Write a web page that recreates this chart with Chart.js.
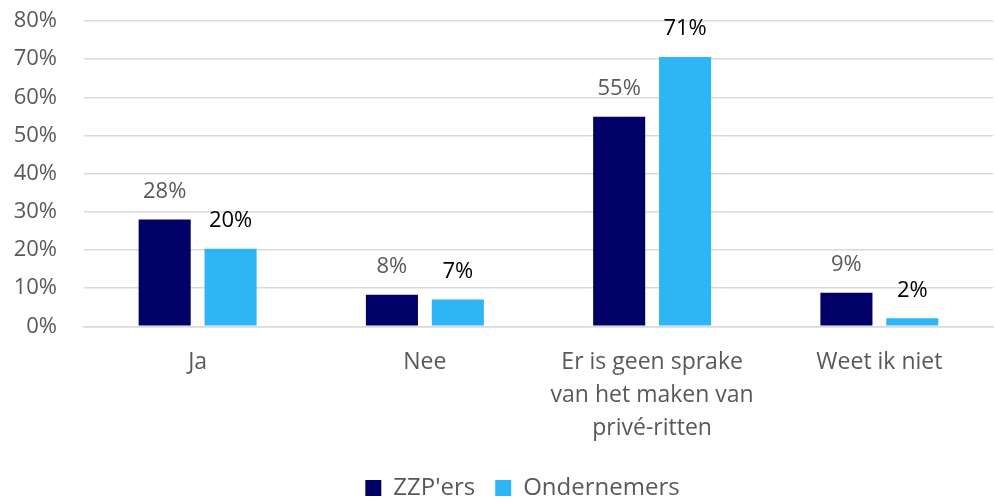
<!DOCTYPE html>
<html><head><meta charset="utf-8">
<script src="https://cdn.jsdelivr.net/npm/chart.js@4/dist/chart.umd.min.js"></script>
<style>html,body{margin:0;padding:0;background:#fff}#wrap{width:996px;height:498px}</style>
</head><body><div id="wrap"><canvas id="c" width="996" height="498"></canvas></div>
<script>
const categories = [["Ja"], ["Nee"], ["Er is geen sprake", "van het maken van", "privé-ritten"], ["Weet ik niet"]];
const zzpValues = [28, 8.3, 54.9, 8.8];
const ondValues = [20.3, 7.0, 70.6, 2.1];
const zzpLabels = ["28%", "8%", "55%", "9%"];
const ondLabels = ["20%", "7%", "71%", "2%"];
const yTicks = [0, 10, 20, 30, 40, 50, 60, 70, 80];
const FONT = "'Open Sans', 'Noto Sans', sans-serif";

const labelPlugin = {
  id: 'barLabels',
  afterLayout(chart) {
    if (chart.legend) { chart.legend.left += 25; chart.legend.right += 25; }
  },
  afterDatasetsDraw(chart) {
    const ctx = chart.ctx;
    const sets = [{labels: zzpLabels, color: '#595959'}, {labels: ondLabels, color: '#000000'}];
    sets.forEach((s, di) => {
      const meta = chart.getDatasetMeta(di);
      meta.data.forEach((bar, i) => {
        ctx.save();
        ctx.font = "22px " + FONT;
        ctx.fillStyle = s.color;
        ctx.textAlign = 'center';
        ctx.textBaseline = 'middle';
        ctx.fillText(s.labels[i], bar.x, bar.y - 28);
        ctx.restore();
      });
    });
  }
};

new Chart(document.getElementById('c'), {
  type: 'bar',
  data: {
    labels: categories,
    datasets: [
      {label: "ZZP'ers", data: zzpValues, backgroundColor: '#000066', barPercentage: 0.79, categoryPercentage: 0.58},
      {label: "Ondernemers", data: ondValues, backgroundColor: '#2EB5F5', barPercentage: 0.79, categoryPercentage: 0.58}
    ]
  },
  options: {
    responsive: false,
    animation: false,
    devicePixelRatio: 1,
    layout: {padding: {left: 2, right: 3, top: 21, bottom: -12}},
    plugins: {
      tooltip: {enabled: false},
      legend: {
        position: 'bottom',
        labels: {
          font: {family: FONT, size: 24},
          color: '#595959',
          boxWidth: 16, boxHeight: 16,
          padding: 20
        }
      }
    },
    scales: {
      x: {
        grid: {display: false},
        border: {display: true, color: '#d9d9d9', width: 1.5},
        ticks: {font: {family: FONT, size: 23, lineHeight: 1.43}, color: '#595959', maxRotation: 0, padding: 11.5}
      },
      y: {
        min: 0, max: 80,
        afterBuildTicks(axis) { axis.ticks = yTicks.map(v => ({value: v})); },
        afterFit(axis) { axis.width = 82; axis.paddingTop = 0; axis.paddingBottom = 0; },
        grid: {color: '#d9d9d9', lineWidth: 1.5, drawTicks: false},
        border: {display: false},
        ticks: {font: {family: FONT, size: 22}, color: '#595959', padding: 27, callback: v => v + '%'}
      }
    }
  },
  plugins: [labelPlugin]
});
</script></body></html>
